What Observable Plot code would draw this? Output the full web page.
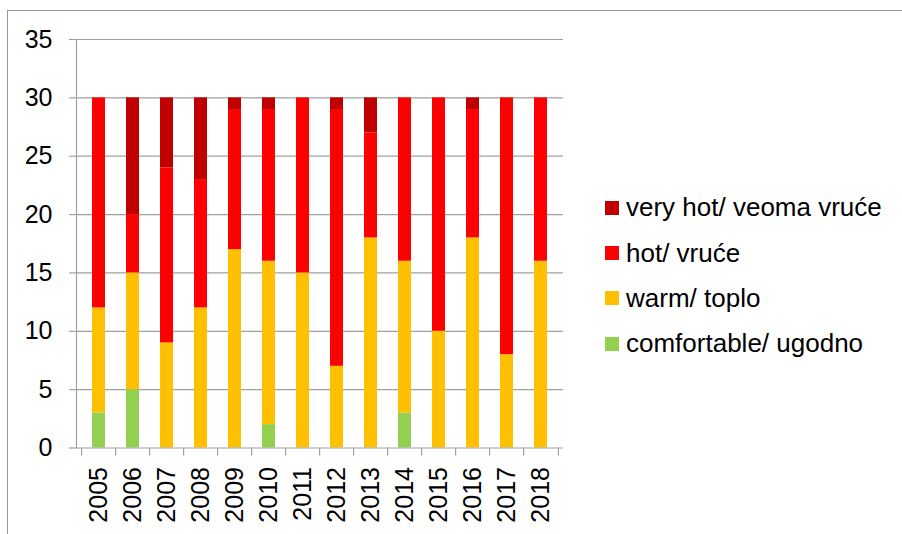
<!DOCTYPE html>
<html>
<head>
<meta charset="utf-8">
<script src="https://cdn.jsdelivr.net/npm/d3@7"></script>
<script src="https://cdn.jsdelivr.net/npm/@observablehq/plot@0.6"></script>
<style>
  html, body { margin: 0; padding: 0; background: #fff; }
  #wrap { position: relative; width: 902px; height: 534px; overflow: hidden; font-family: "Liberation Sans", Arial, sans-serif; }
  #border { position: absolute; left: 7px; top: 10px; width: 1000px; height: 1000px; border: 1.3px solid #9a9a9a; box-sizing: border-box; }
  #legend { position: absolute; left: 605px; top: 185px; }
  .item { display: flex; align-items: center; height: 45.4px; font-size: 26px; color: #000; white-space: nowrap; }
  .sw { width: 14px; height: 14px; margin-right: 7px; flex: none; }
  svg { position: absolute; left: 0; top: 0; }
</style>
</head>
<body>
<div id="wrap"><div id="border"></div></div>
<script>
const years = [2005, 2006, 2007, 2008, 2009, 2010, 2011, 2012, 2013, 2014, 2015, 2016, 2017, 2018];
const series = ["comfortable/ ugodno", "warm/ toplo", "hot/ vruće", "very hot/ veoma vruće"];
const colors = ["#92D050", "#FFC000", "#FF0000", "#C00000"];
const comfortable = [3, 5, 0, 0, 0, 2, 0, 0, 0, 3, 0, 0, 0, 0];
const warm = [9, 10, 9, 12, 17, 14, 15, 7, 18, 13, 10, 18, 8, 16];
const hot = [18, 5, 15, 11, 12, 13, 15, 22, 9, 14, 20, 11, 22, 14];
const veryHot = [0, 10, 6, 7, 1, 1, 0, 1, 3, 0, 0, 1, 0, 0];
const yTicks = [0, 5, 10, 15, 20, 25, 30, 35];

const values = [comfortable, warm, hot, veryHot];
const data = [];
series.forEach((s, si) => years.forEach((yr, i) => {
  if (values[si][i] > 0) data.push({year: yr, series: s, value: values[si][i]});
}));

const W = 902, H = 534, ML = 76, MR = 339, MT = 39, MB = 86.5;
const step = (W - ML - MR) / years.length;
const grey = "#a0a0a0";

const chart = Plot.plot({
  width: W, height: H,
  marginLeft: ML, marginRight: MR, marginTop: MT, marginBottom: MB,
  style: {fontFamily: "'Liberation Sans', Arial, sans-serif", fontSize: "25px", color: "#000", background: "transparent", overflow: "visible"},
  x: {domain: years, paddingInner: 0.61, paddingOuter: 0.305, label: null, tickFormat: d => String(d)},
  y: {domain: [0, 35], label: null},
  color: {domain: series, range: colors},
  marks: [
    Plot.gridY(yTicks.filter(d => d > 0), {stroke: grey, strokeOpacity: 1, strokeWidth: 1.2}),
    Plot.barY(data, {x: "year", y: "value", fill: "series", order: series}),
    Plot.ruleY([0], {stroke: grey, strokeWidth: 1.2}),
    Plot.frame({anchor: "left", stroke: grey, strokeWidth: 1.2}),
    Plot.axisY({ticks: yTicks, tickSize: 7, tickPadding: 17, stroke: grey, strokeWidth: 1.2, label: null, fill: "#000"}),
    Plot.axisX({tickSize: 0, tickRotate: -90, tickPadding: 19, label: null, fill: "#000", tickFormat: d => String(d)}),
    Plot.ruleX(years, {x: d => d, y1: 0, y2: 0, insetBottom: -8, dx: -step / 2, stroke: grey, strokeWidth: 1.2}),
    Plot.ruleX([years[years.length - 1]], {x: d => d, y1: 0, y2: 0, insetBottom: -8, dx: step / 2, stroke: grey, strokeWidth: 1.2})
  ]
});

const wrap = document.getElementById("wrap");
wrap.appendChild(chart);

const legend = document.createElement("div");
legend.id = "legend";
[...series].reverse().forEach(s => {
  const it = document.createElement("div");
  it.className = "item";
  const sw = document.createElement("span");
  sw.className = "sw";
  sw.style.background = colors[series.indexOf(s)];
  const t = document.createElement("span");
  t.textContent = s;
  it.appendChild(sw); it.appendChild(t);
  legend.appendChild(it);
});
wrap.appendChild(legend);
</script>
</body>
</html>
